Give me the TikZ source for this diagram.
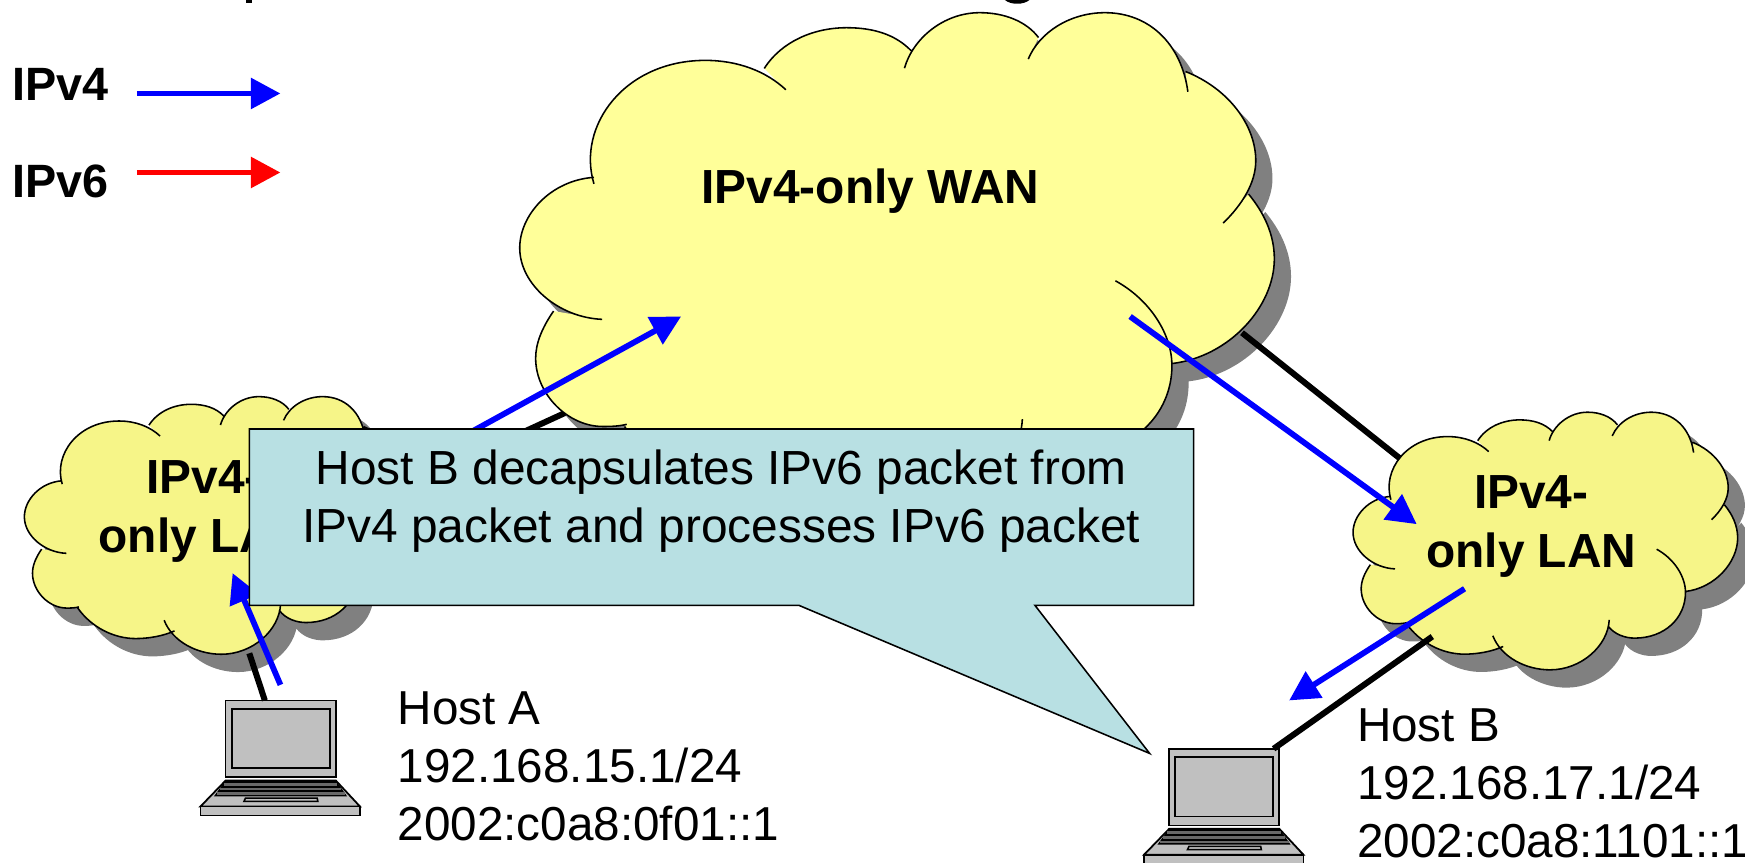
\documentclass[tikz,border=0pt]{standalone}
\usepackage{fontspec}
\setmainfont{Liberation Sans}
\usetikzlibrary{arrows.meta}

\definecolor{wanyellow}{RGB}{255,255,153}
\definecolor{lanyellow}{RGB}{246,245,136}
\definecolor{cloudshade}{RGB}{128,128,128}
\definecolor{calloutblue}{RGB}{184,224,227}
\definecolor{laptopgray}{RGB}{192,192,192}
\definecolor{keyrow}{RGB}{105,105,105}

\tikzset{
  v4link/.style={line width=2.6pt, blue, -{Triangle[length=13.3pt,width=13.5pt]}},
  v6link/.style={line width=2.6pt, red, -{Triangle[length=13.3pt,width=13.5pt]}},
  wire/.style={line width=2.7pt, black},
  hostlabel/.style={anchor=north west, align=left, inner sep=0pt, font=\fontsize{21.4}{26.2}\selectfont},
  netlabel/.style={align=center, inner sep=0pt, font=\fontsize{21.5}{26.5}\selectfont\bfseries},
}

% one lobe after another, #1 joins them
\newcommand{\cloudpath}[1]{
  (34,78.6) .. controls (26,52) and (48,21.9) .. (85,21.9) .. controls (100,21.9) and (113,27) .. (121.9,35.4) #1
  (112,25.6) .. controls (120,13) and (135,6.9) .. (149.7,6.9) .. controls (162,6.9) and (172,10) .. (179.2,17.4) #1
  (176.2,25.5) .. controls (180,12) and (194,0) .. (210.7,0) .. controls (222,0) and (232,4) .. (237.6,11.4) #1
  (232.9,21.3) .. controls (238,9) and (252,0) .. (268,0) .. controls (288,0) and (303,14) .. (306,36.3) #1
  (304.9,27) .. controls (325,35) and (337.1,52) .. (337.1,68) .. controls (337.1,78) and (331,88) .. (322.2,96.6) #1
  (333.8,83.3) .. controls (341,92) and (345.6,102) .. (345.6,113) .. controls (345.6,135) and (325,158) .. (298.7,161.1) #1
  (272.8,123.1) .. controls (289,132) and (298.7,148) .. (298.7,162) .. controls (298.7,185) and (280,203) .. (253,203) .. controls (245,203) and (235,200) .. (229,192) #1
  (230.2,186.6) .. controls (229,210) and (205,231.5) .. (177,231.5) .. controls (155,231.5) and (133,220) .. (125.6,200.9) #1
  (134.9,210.5) .. controls (125,215) and (112,217.4) .. (100,217.4) .. controls (80,217.4) and (60,207) .. (48,190) #1
  (49,189) .. controls (45,190) and (41,190) .. (38,190) .. controls (22,190) and (7.3,175) .. (7.3,158.7) .. controls (7.3,152) and (10,145) .. (15.5,137) #1
  (37.7,140.8) .. controls (18,140) and (0,125) .. (0,108) .. controls (0,93) and (14,77) .. (34,75.6)
}

% #1 left, #2 top, #3 xscale, #4 yscale, #5 fill
\newcommand{\cloudshape}[5]{
  \begin{scope}[shift={(#1+15,#2+16)},xscale=#3,yscale=#4]
    \fill[cloudshade] \cloudpath{--} -- cycle;
  \end{scope}
  \begin{scope}[shift={(#1,#2)},xscale=#3,yscale=#4]
    \fill[#5] \cloudpath{--} -- cycle;
    \draw[line width=0.7pt] \cloudpath{};
  \end{scope}
}

\newcommand{\laptopshape}[2]{
  \begin{scope}[shift={(#1,#2)},line width=0.8pt]
    \filldraw[fill=laptopgray] (22.5,0) rectangle (121.6,69);
    \filldraw[fill=laptopgray] (28,7.6) rectangle (116.2,60.8);
    \filldraw[fill=laptopgray] (22.5,72) -- (121.6,72) -- (143.2,95.2) -- (0,95.2) -- cycle;
    \filldraw[fill=laptopgray] (0,95.2) rectangle (143.2,103.3);
    \fill (22.5,72) -- (121.6,72) -- (131.7,86.2) -- (12,86.2) -- cycle;
    \draw[keyrow, line width=1.2pt] (21,75.4) -- (122.7,75.4) (17.4,79.6) -- (126.3,79.6) (14.4,83.8) -- (130.2,83.8);
    \filldraw[fill=laptopgray, line width=0.7pt] (40.4,87.7) -- (104.8,87.7) -- (105.4,90.7) -- (39,90.7) -- cycle;
  \end{scope}
}

\begin{document}
\begin{tikzpicture}[x=0.5pt,y=-0.5pt]
  \useasboundingbox (0,0) rectangle (1568,774.6);

  % what is left of the heading above the page edge
  \fill (221,0) rectangle (226.5,3);
  \fill (903,0) .. controls (908,4.5) and (920,4.5) .. (925,0) -- cycle;

  % connectors that stay behind the clouds
  \coordinate (wanleft) at (510,370);
  \coordinate (lanleftup) at (340,448);
  \draw[wire] (wanleft) -- (lanleftup);

  \cloudshape{467}{11.4}{1.962}{1.957}{wanyellow}
  \cloudshape{21.9}{356.4}{1}{1}{lanyellow}
  \cloudshape{1215.8}{370.4}{1}{1}{lanyellow}

  \node[netlabel] (wanname) at (782,171.5) {IPv4-only WAN};
  \node[netlabel] (lanleftname) at (183,460) {IPv4-\\only LAN};
  \node[netlabel] (lanrightname) at (1376,473) {IPv4-\\only LAN};

  \laptopshape{180.2}{629.4}
  \laptopshape{1028}{672.8}

  \coordinate (wanright) at (1116,299);
  \coordinate (lanrightup) at (1258,412);
  \coordinate (lanleftdown) at (224,587);
  \coordinate (hostatop) at (238,629.4);
  \coordinate (lanrightdown) at (1287,572);
  \coordinate (hostbtop) at (1144.4,672.8);
  \draw[wire] (wanright) -- (lanrightup);
  \draw[wire] (lanleftdown) -- (hostatop);
  \draw[wire] (lanrightdown) -- (hostbtop);

  \coordinate (pathastart) at (300,456);
  \coordinate (pathatip) at (612,284.4);
  \coordinate (pathbstart) at (1015.5,284.4);
  \coordinate (pathbtip) at (1273,471);
  \coordinate (pathcstart) at (1316,529);
  \coordinate (pathctip) at (1158.4,629.4);
  \coordinate (pathdstart) at (252,615.4);
  \coordinate (pathdtip) at (209,515);
  \draw[v4link] (pathastart) -- (pathatip);
  \draw[v4link] (pathbstart) -- (pathbtip);
  \draw[v4link] (pathcstart) -- (pathctip);
  \draw[v4link] (pathdstart) -- (pathdtip);

  % callout goes over the left cloud
  \filldraw[fill=calloutblue, line width=0.7pt] (224,385.5) -- (1072.5,385.5) -- (1072.5,544) -- (930,544)
    -- (1033,677) -- (718,544) -- (224,544) -- cycle;
  \node[inner sep=0pt, align=center, font=\fontsize{21.5}{26.2}\selectfont] (calloutnote) at (648,450)
    {Host B decapsulates IPv6 packet from\\IPv4 packet and processes IPv6 packet};

  \node[hostlabel] (hostaname) at (357,621) {Host A\\192.168.15.1/24\\2002:c0a8:0f01::1};
  \node[hostlabel] (hostbname) at (1219,636) {Host B\\192.168.17.1/24\\2002:c0a8:1101::1};

  % legend
  \node[netlabel, anchor=west, font=\fontsize{21}{26}\selectfont\bfseries] (legendfour) at (11,76) {IPv4};
  \node[netlabel, anchor=west, font=\fontsize{21}{26}\selectfont\bfseries] (legendsix) at (11,163) {IPv6};
  \coordinate (fourstart) at (123,84);
  \coordinate (fourtip) at (252,84);
  \coordinate (sixstart) at (123,155);
  \coordinate (sixtip) at (252,155);
  \draw[v4link] (fourstart) -- (fourtip);
  \draw[v6link] (sixstart) -- (sixtip);
\end{tikzpicture}
\end{document}
